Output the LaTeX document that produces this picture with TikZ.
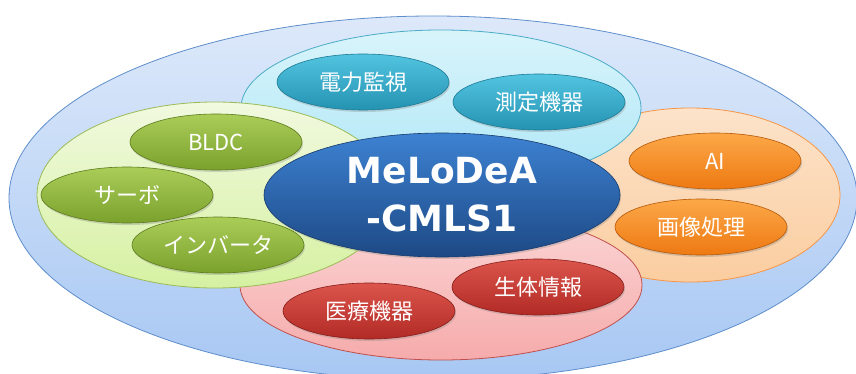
\documentclass[tikz,border=0pt]{standalone}
\usepackage{fontspec}
\newfontfamily\cjk{Noto Sans CJK JP}
\newfontfamily\titlefont{DejaVu Sans}
\usetikzlibrary{shapes.geometric,shadows}

% zone colours
\definecolor{outertop}{HTML}{DDE9FA}
\definecolor{outerbot}{HTML}{A7C7F3}
\definecolor{outerline}{HTML}{5E8ECB}
\definecolor{cyanztop}{HTML}{D9F4FB}
\definecolor{cyanzbot}{HTML}{AEE7F6}
\definecolor{cyanzline}{HTML}{4BACC6}
\definecolor{greenztop}{HTML}{F1F9DF}
\definecolor{greenzbot}{HTML}{D6F1A2}
\definecolor{greenzline}{HTML}{9BBB59}
\definecolor{orangeztop}{HTML}{FCE3CA}
\definecolor{orangezbot}{HTML}{FBCDA0}
\definecolor{orangezline}{HTML}{F79646}
\definecolor{redztop}{HTML}{FBD6D6}
\definecolor{redzbot}{HTML}{F6ABAB}
\definecolor{redzline}{HTML}{C0504D}
% pill colours
\definecolor{tealtop}{HTML}{52C4E0}
\definecolor{tealbot}{HTML}{2493B2}
\definecolor{tealline}{HTML}{1E7A95}
\definecolor{leaftop}{HTML}{AACD58}
\definecolor{leafbot}{HTML}{7BA12D}
\definecolor{leafline}{HTML}{5C7B1D}
\definecolor{ambertop}{HTML}{FCA848}
\definecolor{amberbot}{HTML}{EE7912}
\definecolor{amberline}{HTML}{B5590A}
\definecolor{rubytop}{HTML}{DC554C}
\definecolor{rubybot}{HTML}{B12A25}
\definecolor{rubyline}{HTML}{861D19}
\definecolor{coretop}{HTML}{3D82D2}
\definecolor{corebot}{HTML}{1D4985}
\definecolor{coreline}{HTML}{163A6C}

\tikzset{
  zone/.style={ellipse, inner sep=0pt, line width=0.8pt, draw=#1zline, top color=#1ztop, bottom color=#1zbot},
  pill/.style={ellipse, inner sep=0pt, minimum width=172pt, minimum height=56pt, line width=0.6pt,
    draw=#1line, top color=#1top, bottom color=#1bot, text=white,
    font=\cjk\fontsize{22}{22}\selectfont,
    drop shadow={opacity=0.3, shadow xshift=1pt, shadow yshift=-2pt}}
}

\begin{document}
\begin{tikzpicture}[x=1pt, y=-1pt]
                \useasboundingbox (0,0) rectangle (856,374);

                \node[ellipse, inner sep=0pt, line width=0.8pt, draw=outerline, top color=outertop, bottom color=outerbot,
                    minimum width=848pt, minimum height=364pt] (outer) at (433,198) {};
                \node[zone=orange, minimum width=300pt, minimum height=174pt] (vision) at (690,195) {};
                \node[zone=cyan, minimum width=400pt, minimum height=156pt] (meter) at (441,108) {};
                \node[zone=red, minimum width=402pt, minimum height=150pt] (medical) at (441,285) {};
                \node[zone=green, minimum width=356pt, minimum height=186pt] (motor) at (215,195) {};

                \node[pill=core, minimum width=356pt, minimum height=124pt, align=center,
                    font=\titlefont\bfseries\fontsize{36}{48}\selectfont] (core) at (442,195) {MeLoDeA\\-CMLS1};

                \foreach \n/\x/\y/\c/\t in {power/363/82/teal/電力監視, measure/539/102/teal/測定機器,
                    bldc/216/142/leaf/BLDC, servo/127/195/leaf/サーボ, inverter/218/245/leaf/インバータ,
                    ai/715/161/amber/AI, image/701/227/amber/画像処理,
                    bio/538/287/ruby/生体情報, device/369/311/ruby/医療機器}
                \node[pill=\c] (\n) at (\x,\y) {\t};
            \end{tikzpicture}
\end{document}
